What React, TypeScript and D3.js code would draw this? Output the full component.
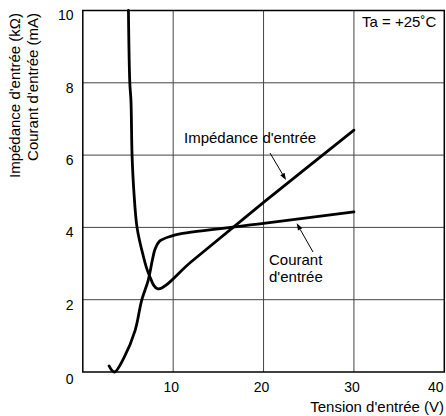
import React from "react";
import * as d3 from "d3";

const xTicks = [10, 20, 30, 40];
const yTicks = [0, 2, 4, 6, 8, 10];
const impedanceX = [5.05, 5.2, 5.33, 5.45, 5.65, 6.0, 6.6, 7.3, 8.3, 12, 20, 30];
const impedanceY = [10, 8, 7.5, 6, 5, 4, 3.3, 2.71, 2.3, 3.05, 4.69, 6.69];
const currentX = [2.9, 3.5, 4.6, 5.8, 6.5, 7.25, 7.7, 8.0, 8.5, 9.8, 10.75, 20, 30];
const currentY = [0.17, 0, 0.42, 1.16, 1.97, 2.55, 3.1, 3.4, 3.62, 3.76, 3.82, 4.11, 4.43];

const W = 446, H = 416;
const M = { left: 82.8, right: 444.3, top: 10.5, bottom: 372 };

export default function App() {
  const x = d3.scaleLinear().domain([0, 40]).range([M.left, M.right]);
  const y = d3.scaleLinear().domain([0, 10]).range([M.bottom, M.top]);
  const line = d3
    .line<[number, number]>()
    .x((d) => x(d[0]))
    .y((d) => y(d[1]))
    .curve(d3.curveCatmullRom.alpha(0.5));
  const imp = impedanceX.map((v, i) => [v, impedanceY[i]] as [number, number]);
  const cur = currentX.map((v, i) => [v, currentY[i]] as [number, number]);
  const font = "Liberation Sans, Arial, Helvetica, sans-serif";
  const arrow = (x1: number, y1: number, x2: number, y2: number) => {
    const a = Math.atan2(y2 - y1, x2 - x1);
    const L = 7, w = 2.5;
    const bx = x2 - L * Math.cos(a), by = y2 - L * Math.sin(a);
    const px = -Math.sin(a) * w, py = Math.cos(a) * w;
    return (
      <g>
        <line x1={x1} y1={y1} x2={bx} y2={by} stroke="#000" strokeWidth={1} />
        <path d={`M${x2},${y2}L${bx + px},${by + py}L${bx - px},${by - py}Z`} fill="#000" />
      </g>
    );
  };
  const LF = 15;
  const TF = 14;
  return (
    <svg width={W} height={H} style={{ position: "absolute", left: 0, top: 0, background: "#fff" }} fontFamily={font}>
      <rect x={0} y={0} width={W} height={H} fill="#fff" />
      {xTicks.slice(0, -1).map((t) => (
        <line key={"gx" + t} x1={x(t)} x2={x(t)} y1={M.top} y2={M.bottom} stroke="#444" strokeWidth={1} />
      ))}
      {yTicks.slice(1, -1).map((t) => (
        <line key={"gy" + t} x1={M.left} x2={M.right} y1={y(t)} y2={y(t)} stroke="#444" strokeWidth={1} />
      ))}
      <rect x={M.left} y={M.top} width={M.right - M.left} height={M.bottom - M.top} fill="none" stroke="#000" strokeWidth={1.5} />
      <path d={line(imp) || ""} fill="none" stroke="#000" strokeWidth={2.8} strokeLinejoin="round" strokeLinecap="round" />
      <path d={line(cur) || ""} fill="none" stroke="#000" strokeWidth={2.8} strokeLinejoin="round" strokeLinecap="round" />
      {yTicks.map((t) => (
        <text key={"ly" + t} x={73.5} y={y(t) + (t === 0 ? 7 : 5)} dy="0.35em" textAnchor="end" fontSize={TF}>
          {t}
        </text>
      ))}
      {xTicks.map((t) => (
        <text
          key={"lx" + t}
          x={t === 40 ? 443.5 : x(t) - 2}
          y={392}
          textAnchor={t === 40 ? "end" : "middle"}
          fontSize={TF}
        >
          {t}
        </text>
      ))}
      <text x={444} y={412} textAnchor="end" fontSize={LF}>Tension d'entrée (V)</text>
      <text transform="translate(19.5,13) rotate(-90)" textAnchor="end" fontSize={LF}>Impédance d'entrée (kΩ)</text>
      <text transform="translate(37.5,13) rotate(-90)" textAnchor="end" fontSize={LF}>Courant d'entrée  (mA)</text>
      <text x={362} y={27} fontSize={LF}>Ta = +25˚C</text>
      <text x={184} y={142.7} fontSize={LF}>Impédance d'entrée</text>
      {arrow(270, 153, 286, 180)}
      <text x={269} y={265} fontSize={LF}>Courant</text>
      <text x={269} y={281.7} fontSize={LF}>d'entrée</text>
      {arrow(313, 252, 296.7, 223.3)}
    </svg>
  );
}
